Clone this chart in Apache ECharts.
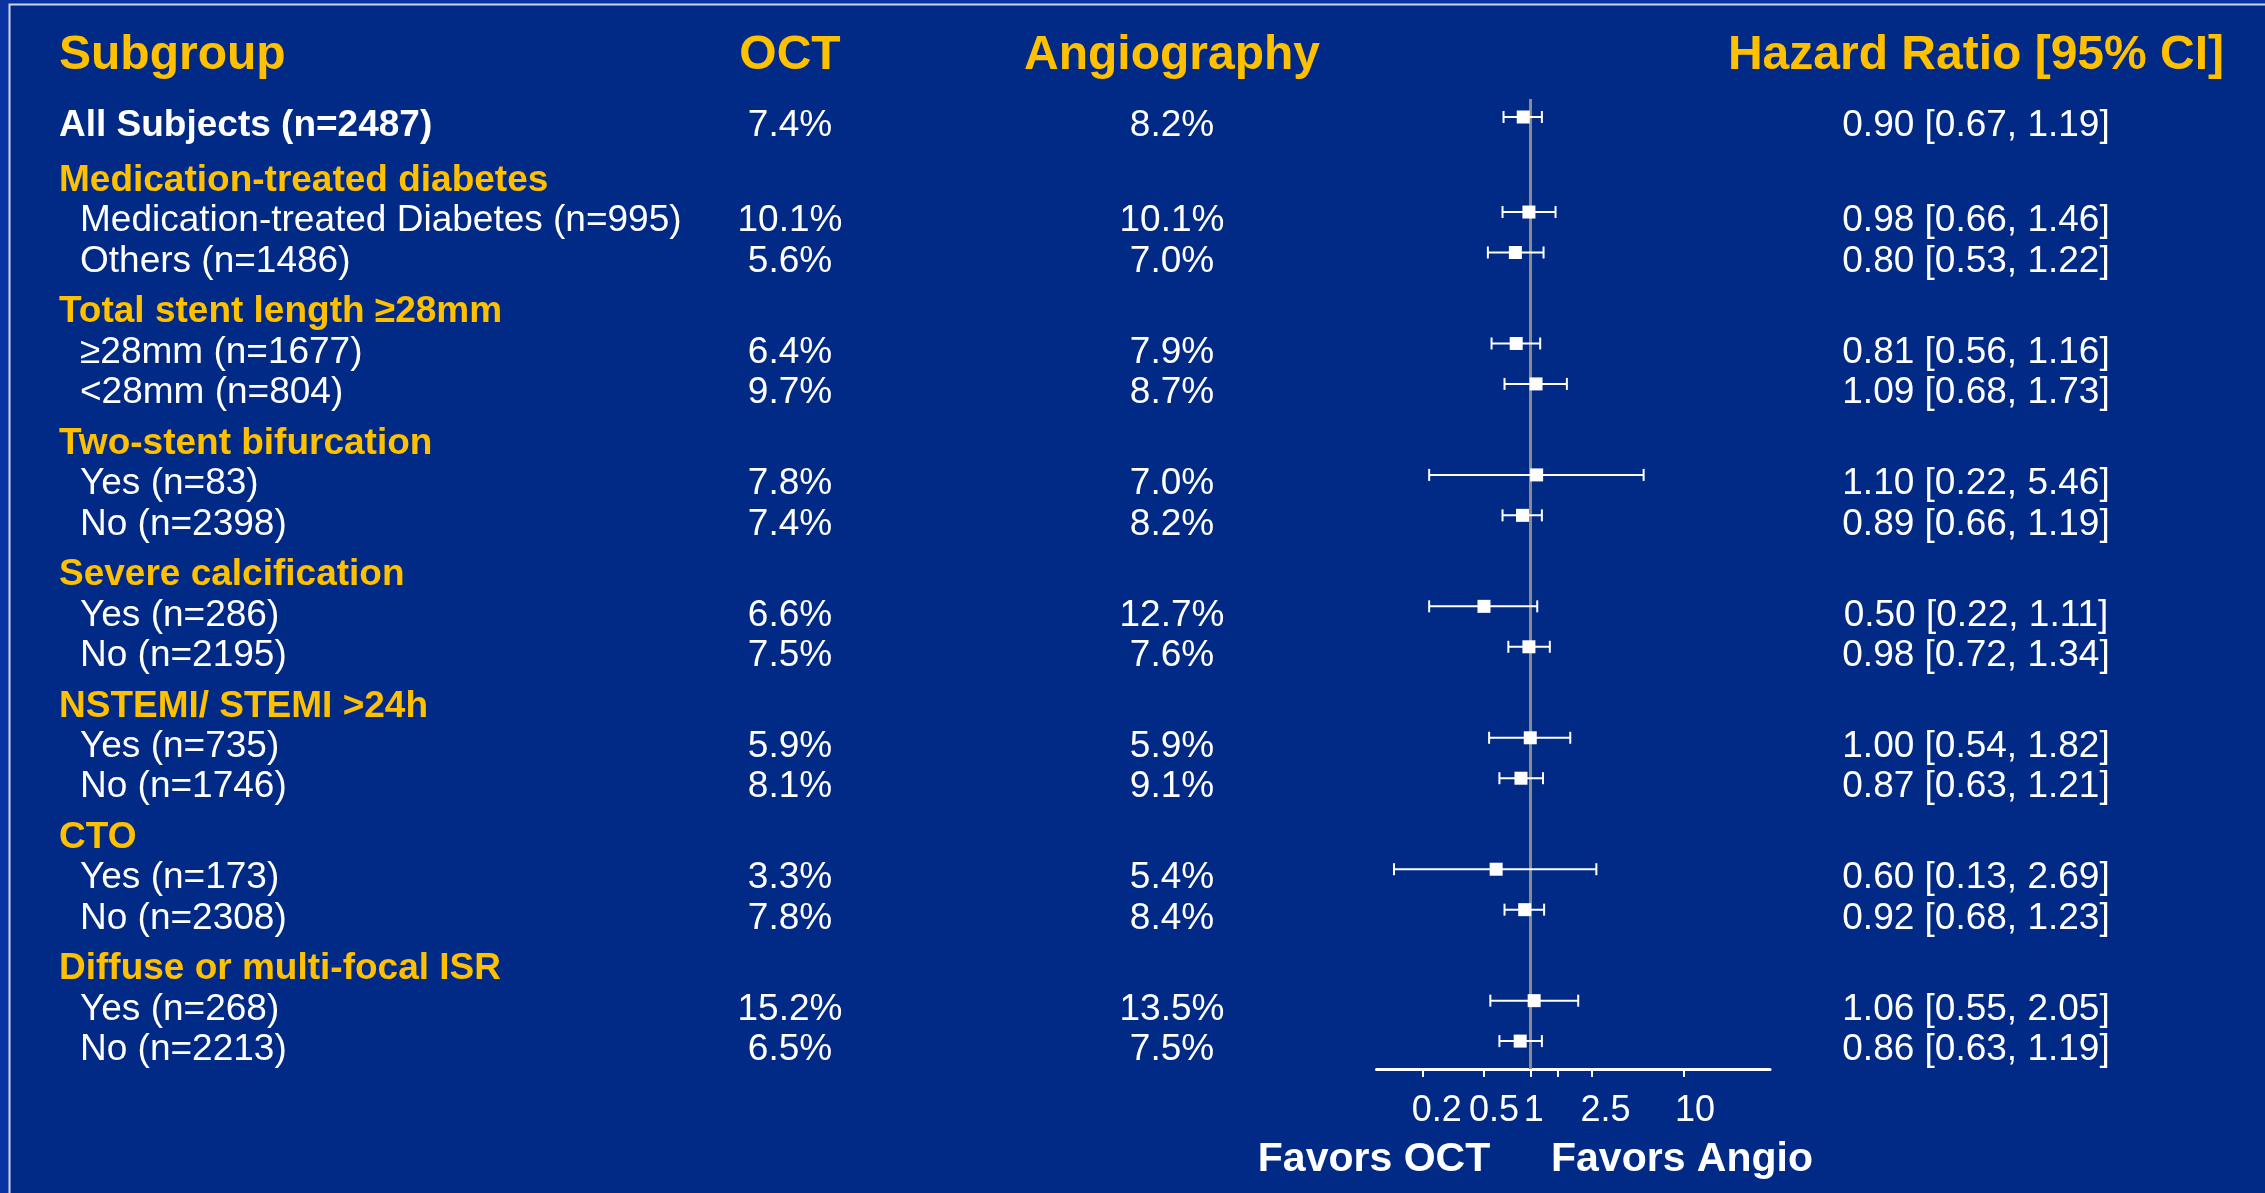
<!DOCTYPE html>
<html>
<head>
<meta charset="utf-8">
<script src="https://cdn.jsdelivr.net/npm/echarts@6/dist/echarts.min.js"></script>
<style>
html,body{margin:0;padding:0;background:#0833a0;}
#chart{width:2265px;height:1193px;}
</style>
</head>
<body>
<div id="chart"></div>
<script>
// ---------- data ----------
const headers = ['Subgroup', 'OCT', 'Angiography', 'Hazard Ratio [95% CI]'];
const rowLabels = [
  'All Subjects (n=2487)',
  'Medication-treated diabetes', 'Medication-treated Diabetes (n=995)', 'Others (n=1486)',
  'Total stent length \u226528mm', '\u226528mm (n=1677)', '<28mm (n=804)',
  'Two-stent bifurcation', 'Yes (n=83)', 'No (n=2398)',
  'Severe calcification', 'Yes (n=286)', 'No (n=2195)',
  'NSTEMI/ STEMI >24h', 'Yes (n=735)', 'No (n=1746)',
  'CTO', 'Yes (n=173)', 'No (n=2308)',
  'Diffuse or multi-focal ISR', 'Yes (n=268)', 'No (n=2213)'
];
const rowKinds = ['all','cat','sub','sub','cat','sub','sub','cat','sub','sub','cat','sub','sub','cat','sub','sub','cat','sub','sub','cat','sub','sub'];
const octRates   = [7.4, null, 10.1, 5.6, null, 6.4, 9.7, null, 7.8, 7.4, null, 6.6, 7.5, null, 5.9, 8.1, null, 3.3, 7.8, null, 15.2, 6.5];
const angioRates = [8.2, null, 10.1, 7.0, null, 7.9, 8.7, null, 7.0, 8.2, null, 12.7, 7.6, null, 5.9, 9.1, null, 5.4, 8.4, null, 13.5, 7.5];
const hr      = [0.90, null, 0.98, 0.80, null, 0.81, 1.09, null, 1.10, 0.89, null, 0.50, 0.98, null, 1.00, 0.87, null, 0.60, 0.92, null, 1.06, 0.86];
const hrLower = [0.67, null, 0.66, 0.53, null, 0.56, 0.68, null, 0.22, 0.66, null, 0.22, 0.72, null, 0.54, 0.63, null, 0.13, 0.68, null, 0.55, 0.63];
const hrUpper = [1.19, null, 1.46, 1.22, null, 1.16, 1.73, null, 5.46, 1.19, null, 1.11, 1.34, null, 1.82, 1.21, null, 2.69, 1.23, null, 2.05, 1.19];
const tickValues = [0.2, 0.5, 1, 1.5, 2.5, 10];
const tickLabelsA = [0.2, 1, 10];   // labels drawn by the main axis
const tickLabelsB = [0.5, 2.5];     // labels drawn by a companion axis (they sit very close)
const favorsLabels = ['Favors OCT', 'Favors Angio'];

// ---------- layout helpers ----------
const FONT = '"Liberation Sans", Arial, Helvetica, sans-serif';
const GOLD = '#ffc000';
const WHITE = '#ffffff';
const L = Math.log10;

// vertical slot of each row: sub-rows advance by 1, group headings by 1.25 (first one 1.35)
const rowPos = [];
rowKinds.forEach((k, i) => {
  if (i === 0) rowPos.push(0);
  else rowPos.push(rowPos[i - 1] + (k === 'cat' ? (i === 1 ? 1.35 : 1.25) : 1));
});
const Y_MIN = -0.445, Y_MAX = 23.54;

function textAxisY(idx) {
  return {gridIndex: idx, type: 'value', min: Y_MIN, max: Y_MAX, inverse: true, show: false};
}
function textAxisX(idx, header, align) {
  return {
    gridIndex: idx, type: 'category', data: [header], position: 'top',
    axisLine: {show: false}, axisTick: {show: false}, splitLine: {show: false},
    axisLabel: {show: true, color: GOLD, fontFamily: FONT, fontWeight: 'bold', fontSize: 48,
      lineHeight: 48, margin: 28, align: align || 'center'}
  };
}

const fmtPct = v => v.toFixed(1) + '%';
const fmtHR = i => hr[i].toFixed(2) + ' [' + hrLower[i].toFixed(2) + ', ' + hrUpper[i].toFixed(2) + ']';

function textSeries(gridIdx, getText, align, styleOf, dxOf) {
  const data = [];
  rowLabels.forEach((_, i) => {
    const t = getText(i);
    if (t !== null) data.push([0, rowPos[i], i]);
  });
  return {
    type: 'custom', xAxisIndex: gridIdx, yAxisIndex: gridIdx, silent: true,
    encode: {x: 0, y: 1},
    data: data,
    renderItem: function (params, api) {
      const i = api.value(2);
      const p = api.coord([api.value(0), api.value(1)]);
      const st = styleOf(i);
      return {
        type: 'text', x: p[0] + (dxOf ? dxOf(i) : 0), y: p[1],
        style: {text: getText(i), fill: st.color, fontFamily: FONT, fontSize: 37,
          fontWeight: st.bold ? 'bold' : 'normal', align: align, verticalAlign: 'middle'}
      };
    }
  };
}

const plainStyle = () => ({color: WHITE, bold: false});
const labelStyle = i => rowKinds[i] === 'cat' ? {color: GOLD, bold: true}
  : rowKinds[i] === 'all' ? {color: WHITE, bold: true} : {color: WHITE, bold: false};

// forest data
const forestData = [];
hr.forEach((v, i) => {
  if (v !== null) forestData.push([L(hrLower[i]), L(hrUpper[i]), L(v), rowPos[i]]);
});

// small per-label nudges of the tick texts (as in the original slide)
const labelRich = {p28: {padding: [0, 0, 0, 28]}, p20: {padding: [0, 0, 0, 20]},
  p7: {padding: [0, 0, 0, 7]}, p22: {padding: [0, 0, 0, 22]}};
const nudge = {'0.2': 'p28', '0.5': 'p20', '1': 'p7', '2.5': 'p28', '10': 'p22'};

function labelAxis(list, showLine) {
  return {
    gridIndex: 4, type: 'value', min: -1, max: 1.559, position: 'bottom',
    splitLine: {show: false},
    axisLine: {show: showLine, onZero: false, lineStyle: {color: WHITE, width: 3}},
    axisTick: {show: showLine, length: 8, lineStyle: {color: WHITE, width: 2},
      customValues: tickValues.map(L)},
    axisLabel: {show: true, color: WHITE, fontFamily: FONT, fontSize: 36, lineHeight: 36,
      margin: 24, hideOverlap: false,
      customValues: list.map(L),
      rich: labelRich,
      formatter: function (v) {
        const k = list.findIndex(t => Math.abs(L(t) - v) < 1e-6);
        if (k < 0) return '';
        return '{' + nudge[String(list[k])] + '|' + list[k] + '}';
      }}
  };
}

const TEXT_TOP = 108;
const chart = echarts.init(document.getElementById('chart'), null, {renderer: 'canvas'});
const option = {
  backgroundColor: '#0833a0',
  animation: false,
  graphic: [
    {type: 'rect', z: -10, shape: {x: 9.5, y: 4.5, width: 2300, height: 1250},
      style: {fill: '#002a86', stroke: '#cdd5ee', lineWidth: 2}},
    {type: 'text', x: 1374, y: 1160, style: {text: favorsLabels[0], fill: WHITE, fontFamily: FONT,
      fontSize: 41, fontWeight: 'bold', align: 'center', verticalAlign: 'middle'}},
    {type: 'text', x: 1682, y: 1160, style: {text: favorsLabels[1], fill: WHITE, fontFamily: FONT,
      fontSize: 41, fontWeight: 'bold', align: 'center', verticalAlign: 'middle'}}
  ],
  grid: [
    {left: 0, width: 118, top: TEXT_TOP, height: 970},      // subgroup
    {left: 690, width: 200, top: TEXT_TOP, height: 970},    // OCT
    {left: 1072, width: 200, top: TEXT_TOP, height: 970},   // Angio
    {left: 1826, width: 300, top: TEXT_TOP, height: 970},   // HR text
    {left: 1376.5, width: 393.5, top: 99, height: 970}      // forest
  ],
  xAxis: [
    textAxisX(0, headers[0], 'left'),
    textAxisX(1, headers[1]),
    textAxisX(2, headers[2]),
    textAxisX(3, headers[3]),
    labelAxis(tickLabelsA, true),
    labelAxis(tickLabelsB, false)
  ],
  yAxis: [textAxisY(0), textAxisY(1), textAxisY(2), textAxisY(3),
    {gridIndex: 4, type: 'value', min: Y_MIN, max: Y_MAX, inverse: true, show: false}],
  series: [
    textSeries(0, i => rowLabels[i], 'left', labelStyle, i => rowKinds[i] === 'sub' ? 21 : 0),
    textSeries(1, i => octRates[i] === null ? null : fmtPct(octRates[i]), 'center', plainStyle),
    textSeries(2, i => angioRates[i] === null ? null : fmtPct(angioRates[i]), 'center', plainStyle),
    textSeries(3, i => hr[i] === null ? null : fmtHR(i), 'center', plainStyle),
    {
      type: 'line', xAxisIndex: 4, yAxisIndex: 4, data: [], z: 1, silent: true,
      markLine: {silent: true, symbol: 'none', label: {show: false},
        lineStyle: {color: '#8a8a8a', width: 3, type: 'solid'},
        data: [{xAxis: L(1)}]}
    },
    {
      type: 'custom', xAxisIndex: 4, yAxisIndex: 4, z: 5, silent: true,
      encode: {x: [0, 1, 2], y: 3},
      data: forestData,
      renderItem: function (params, api) {
        const y = api.value(3);
        const lo = api.coord([api.value(0), y]);
        const hi = api.coord([api.value(1), y]);
        const mid = api.coord([api.value(2), y]);
        const cap = 6, half = 6.5;
        const ls = {stroke: WHITE, lineWidth: 2};
        return {type: 'group', children: [
          {type: 'line', shape: {x1: lo[0], y1: lo[1], x2: hi[0], y2: hi[1]}, style: ls},
          {type: 'line', shape: {x1: lo[0], y1: lo[1] - cap, x2: lo[0], y2: lo[1] + cap}, style: ls},
          {type: 'line', shape: {x1: hi[0], y1: hi[1] - cap, x2: hi[0], y2: hi[1] + cap}, style: ls},
          {type: 'rect', shape: {x: mid[0] - half, y: mid[1] - half, width: 2 * half, height: 2 * half},
            style: {fill: WHITE}}
        ]};
      }
    }
  ]
};
chart.setOption(option);
</script>
</body>
</html>
